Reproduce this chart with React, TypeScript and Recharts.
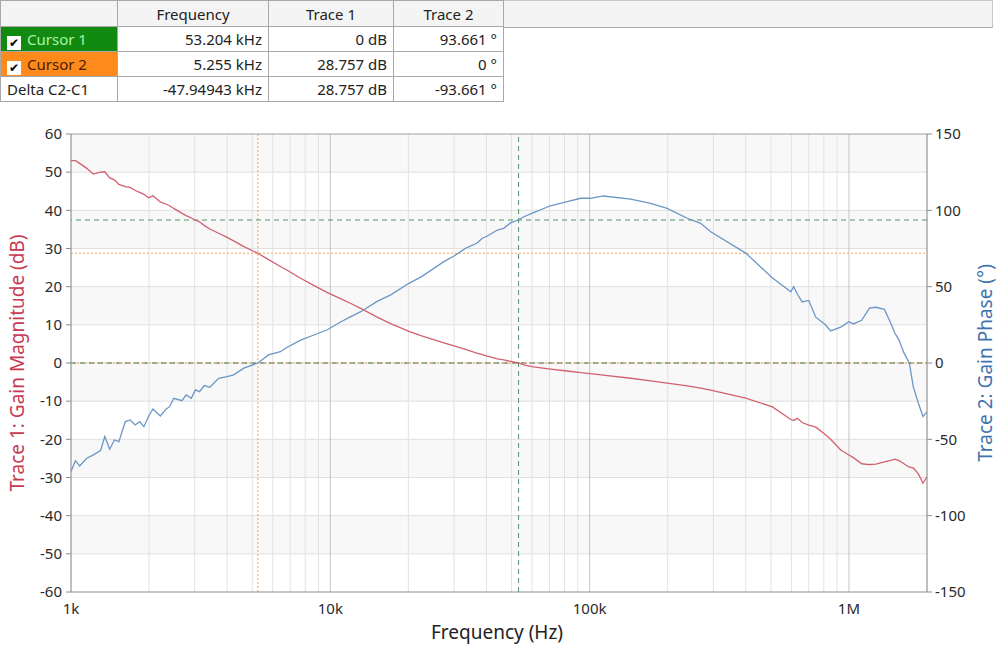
import React from 'react'
import {
  ComposedChart,
  Line,
  XAxis,
  YAxis,
  ReferenceLine,
  ReferenceArea,
} from 'recharts'

// sweep points (Hz)
const freq = [
  1000, 1040, 1080, 1150, 1220, 1300, 1350, 1410, 1470, 1530, 1620, 1690, 1770, 1840, 1910, 1990,
  2070, 2210, 2330, 2400, 2490, 2680, 2780, 2910, 3020, 3130, 3270, 3430, 3710, 4000, 4240, 4640,
  5255, 5780, 6420, 6820, 7680, 8700, 9700, 11000, 12000, 13100, 15100, 17100, 20100, 22500,
  27400, 30000, 33200, 36700, 38600, 40300, 44100, 46600, 49700, 53204, 55700, 60800, 70600,
  81900, 92400, 100600, 113000, 144000, 172000, 199000, 238000, 268000, 293000, 400000, 507000,
  597000, 612000, 633000, 660000, 700000, 745000, 812000, 850000, 930000, 1000000, 1040000,
  1120000, 1200000, 1270000, 1370000, 1450000, 1500000, 1560000, 1630000, 1710000, 1770000,
  1850000, 1930000, 2000000,
]

// Trace 1: gain magnitude (dB)
const magDb = [
  53.0, 53.0, 52.3, 51.0, 49.5, 50.0, 50.1, 48.5, 48.0, 46.8, 46.2, 46.0, 45.2, 44.7, 44.2, 43.3,
  43.8, 42.2, 41.6, 41.2, 40.5, 39.2, 38.6, 38.0, 37.4, 37.0, 36.0, 35.1, 34.0, 32.9, 32.0, 30.5,
  28.76, 27.1, 25.3, 24.3, 22.2, 20.2, 18.5, 16.8, 15.6, 14.3, 12.1, 10.3, 8.3, 7.1,
  5.3, 4.5, 3.6, 2.6, 2.2, 1.8, 1.1, 0.8, 0.4, 0, -0.5, -1.0, -1.6,
  -2.1, -2.5, -2.8, -3.2, -4.0, -4.7, -5.3, -6.0, -6.6, -7.1, -9.2, -11.5,
  -14.8, -15.1, -14.5, -15.6, -16.3, -16.8, -18.8, -20.0, -22.8, -24.1, -24.8,
  -26.4, -26.6, -26.5, -25.9, -25.5, -25.2, -25.6, -26.4, -27.3, -27.5,
  -29.0, -31.5, -29.8,
]

// Trace 2: gain phase (deg)
const phaseDeg = [
  -71, -64, -67.4, -62.4, -60.2, -57.4, -48.2, -56.5, -50.4, -51.5, -38.4, -37.3, -40.6, -38.4, -41.7, -35,
  -30.1, -34.7, -30.1, -28.6, -23.1, -24.7, -20.9, -23.1, -17.6, -18.8, -14.8, -15.9, -10, -9.0, -7.8, -3.4,
  0, 5.3, 7.4, 10.3, 15, 18.5, 21.6, 27, 30.4, 33.6, 40.2, 44.6, 52.2, 56.6,
  66.4, 70.1, 75.1, 78.4, 81.7, 83.2, 87.1, 88.2, 91.9, 93.66, 95.8, 98.5, 103,
  105.7, 107.9, 107.9, 109.4, 107.4, 104.6, 101.3, 94.8, 91.5, 86, 72, 55.7,
  46.7, 50, 45, 40, 41, 30, 25, 21, 23.5, 27, 25.6,
  28, 36, 36.5, 35.2, 26, 20, 15, 6.6, 0, -15.5,
  -26, -35, -32,
]

const xTicks = [1000, 10000, 100000, 1000000]
const xTickLabels = ['1k', '10k', '100k', '1M']
const magTicks = [-60, -50, -40, -30, -20, -10, 0, 10, 20, 30, 40, 50, 60]
const phaseTicks = [-150, -100, -50, 0, 50, 100, 150]
const bands: [number, number][] = [[50, 60], [30, 40], [10, 20], [-10, 0], [-30, -20], [-50, -40]]

const cursor1 = { f: 53204, mag: 0, phase: 93.661 }
const cursor2 = { f: 5255, mag: 28.757, phase: 0 }

const rows = freq.map((f, i) => ({ f, mag: magDb[i], phase: phaseDeg[i] }))

// log grid: 1..9 of every decade
const minorX: number[] = []
for (let d = 1000; d <= 1000000; d *= 10) {
  for (let m = 1; m <= 9; m++) if (d * m <= 2000000) minorX.push(d * m)
}

const font = '"Noto Sans", sans-serif'
const tickStyle = { fontSize: 15, fill: '#2a2a2a', fontFamily: font }

const cell: React.CSSProperties = {
  border: '1px solid #a8a8a8',
  padding: '0 6px',
  height: 24,
  fontSize: 15,
  whiteSpace: 'nowrap',
}

function Check() {
  return (
    <span
      style={{
        display: 'inline-block',
        width: 14,
        height: 14,
        background: '#fff',
        color: '#000',
        fontSize: 12,
        lineHeight: '14px',
        textAlign: 'center',
        marginRight: 6,
        verticalAlign: '-2px',
        fontFamily: 'DejaVu Sans',
      }}
    >
      ✔
    </span>
  )
}

function CursorTable() {
  const num: React.CSSProperties = { ...cell, textAlign: 'right', color: '#222' }
  return (
    <div style={{ position: 'absolute', left: 0, top: 0, width: 992, fontFamily: font }}>
      <div
        style={{
          position: 'absolute',
          left: 0,
          top: 0,
          width: 992,
          height: 26,
          background: '#f4f4f4',
          borderTop: '1px solid #c8c8c8',
          borderBottom: '1px solid #a8a8a8',
          borderRight: '1px solid #c8c8c8',
        }}
      />
      <table style={{ position: 'absolute', left: 0, top: 0, borderCollapse: 'collapse' }}>
        <thead>
          <tr style={{ background: '#f4f4f4' }}>
            <th style={{ ...cell, width: 104, height: 25 }} />
            <th style={{ ...cell, width: 138, fontWeight: 400, color: '#222' }}>Frequency</th>
            <th style={{ ...cell, width: 112, fontWeight: 400, color: '#222' }}>Trace 1</th>
            <th style={{ ...cell, width: 97, fontWeight: 400, color: '#222' }}>Trace 2</th>
          </tr>
        </thead>
        <tbody style={{ background: '#fff' }}>
          <tr>
            <td style={{ ...cell, background: '#128a12', color: '#a8f5a8' }}>
              <Check />Cursor 1
            </td>
            <td style={num}>53.204 kHz</td>
            <td style={num}>0 dB</td>
            <td style={num}>93.661 °</td>
          </tr>
          <tr>
            <td style={{ ...cell, background: '#ff8a1c', color: '#4a1c00' }}>
              <Check />Cursor 2
            </td>
            <td style={num}>5.255 kHz</td>
            <td style={num}>28.757 dB</td>
            <td style={num}>0 °</td>
          </tr>
          <tr>
            <td style={{ ...cell, color: '#222' }}>Delta C2-C1</td>
            <td style={num}>-47.94943 kHz</td>
            <td style={num}>28.757 dB</td>
            <td style={num}>-93.661 °</td>
          </tr>
        </tbody>
      </table>
    </div>
  )
}

export default function App() {
  return (
    <div style={{ position: 'absolute', left: 0, top: 0, width: 1001, height: 670, background: '#fff', fontFamily: font }}>
      <div style={{ position: 'absolute', left: 0, top: 0 }}>
        <ComposedChart width={1001} height={670} data={rows} margin={{ top: 134, right: 0, bottom: 0, left: 0 }}>
          <XAxis
            dataKey="f"
            type="number"
            scale="log"
            domain={[1000, 2000000]}
            allowDataOverflow
            ticks={xTicks}
            tickFormatter={(v: number) => xTickLabels[xTicks.indexOf(v)] ?? ''}
            tick={tickStyle}
            tickLine={false}
            tickSize={0}
            tickMargin={11}
            height={78}
            stroke="#8c8c8c"
          />
          <YAxis
            yAxisId="left"
            orientation="left"
            domain={[-60, 60]}
            ticks={magTicks}
            tick={tickStyle}
            tickSize={5}
            tickMargin={4}
            width={71}
            stroke="#8c8c8c"
          />
          <YAxis
            yAxisId="right"
            orientation="right"
            domain={[-150, 150]}
            ticks={phaseTicks}
            tick={tickStyle}
            tickSize={5}
            tickMargin={3}
            width={74}
            stroke="#8c8c8c"
          />

          {bands.map(([a, b]) => (
            <ReferenceArea key={`b${a}`} yAxisId="left" y1={a} y2={b} fill="#f8f8f8" fillOpacity={1} stroke="none" />
          ))}
          {magTicks.slice(1, -1).map((v) => (
            <ReferenceLine key={`h${v}`} yAxisId="left" y={v} stroke="#e0e0e0" />
          ))}
          {minorX.map((v) => (
            <ReferenceLine
              key={`v${v}`}
              yAxisId="left"
              x={v}
              stroke={xTicks.includes(v) && v !== 1000 ? '#c4c4c4' : '#e2e2e2'}
            />
          ))}
          <ReferenceLine yAxisId="left" y={60} stroke="#a0a0a0" />

          {/* cursor 2 (orange, dotted) */}
          <ReferenceLine yAxisId="left" x={cursor2.f} stroke="#f2a45a" strokeDasharray="2 2" />
          <ReferenceLine yAxisId="left" y={cursor2.mag} stroke="#f2a45a" strokeDasharray="2 2" />
          <ReferenceLine yAxisId="right" y={cursor2.phase} stroke="#f2a45a" strokeDasharray="2 2" />
          {/* cursor 1 (green, dashed) */}
          <ReferenceLine yAxisId="left" x={cursor1.f} stroke="#4f9668" strokeDasharray="5 4" />
          <ReferenceLine yAxisId="left" y={cursor1.mag} stroke="#4f7a58" strokeDasharray="5 4" />
          <ReferenceLine yAxisId="right" y={cursor1.phase} stroke="#4f9668" strokeDasharray="5 4" />

          <Line
            yAxisId="left"
            type="linear"
            dataKey="mag"
            stroke="#d2606f"
            strokeWidth={1.3}
            dot={false}
            isAnimationActive={false}
          />
          <Line
            yAxisId="right"
            type="linear"
            dataKey="phase"
            stroke="#6b96c6"
            strokeWidth={1.3}
            dot={false}
            isAnimationActive={false}
          />
        </ComposedChart>
      </div>

      <svg width={1001} height={670} style={{ position: 'absolute', left: 0, top: 0, pointerEvents: 'none' }}>
        <text
          x={497}
          y={639}
          textAnchor="middle"
          fontSize={19}
          fill="#222"
          fontFamily={font}
        >
          Frequency (Hz)
        </text>
        <text
          transform="translate(24,363) rotate(-90)"
          textAnchor="middle"
          fontSize={19}
          fill="#c63a52"
          fontFamily={font}
        >
          Trace 1: Gain Magnitude (dB)
        </text>
        <text
          transform="translate(992,363) rotate(-90)"
          textAnchor="middle"
          fontSize={19}
          fill="#3f74ad"
          fontFamily={font}
        >
          Trace 2: Gain Phase (°)
        </text>
      </svg>

      <CursorTable />
    </div>
  )
}
